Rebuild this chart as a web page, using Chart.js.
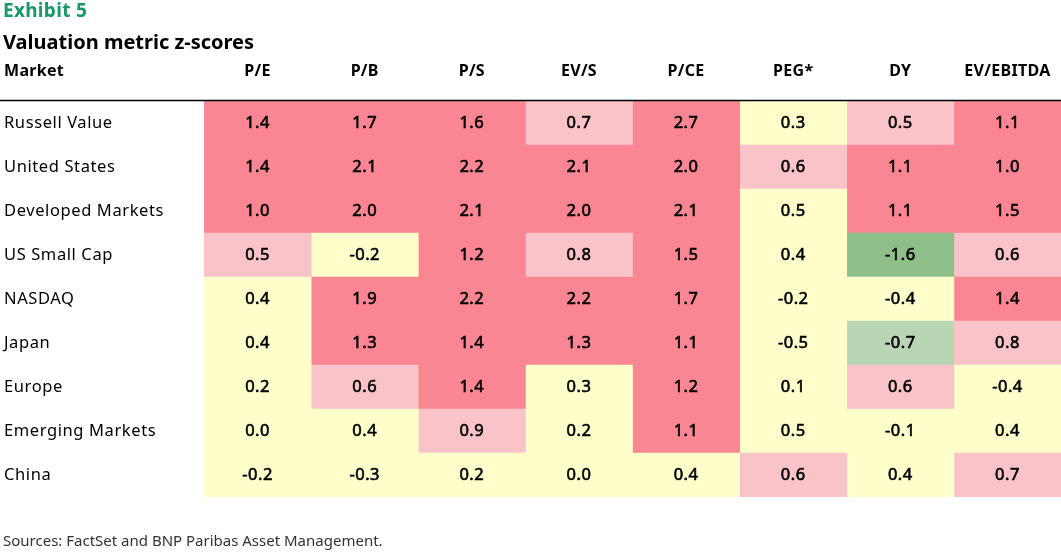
<!DOCTYPE html>
<html>
<head>
<meta charset="utf-8">
<script src="https://cdn.jsdelivr.net/npm/chart.js@4/dist/chart.umd.min.js"></script>
<style>
html,body{margin:0;padding:0;background:#fff;}
#wrap{width:1061px;height:552px;position:relative;}
</style>
</head>
<body>
<div id="wrap"><canvas id="c" width="1061" height="552"></canvas></div>
<script>
const exhibit = "Exhibit 5";
const title = "Valuation metric z-scores";
const rowHeader = "Market";
const source = "Sources: FactSet and BNP Paribas Asset Management.";
const metrics = ["P/E", "P/B", "P/S", "EV/S", "P/CE", "PEG*", "DY", "EV/EBITDA"];
const markets = ["Russell Value", "United States", "Developed Markets", "US Small Cap", "NASDAQ", "Japan", "Europe", "Emerging Markets", "China"];
const russellValue     = [1.4, 1.7, 1.6, 0.7, 2.7, 0.3, 0.5, 1.1];
const unitedStates     = [1.4, 2.1, 2.2, 2.1, 2.0, 0.6, 1.1, 1.0];
const developedMarkets = [1.0, 2.0, 2.1, 2.0, 2.1, 0.5, 1.1, 1.5];
const usSmallCap       = [0.5, -0.2, 1.2, 0.8, 1.5, 0.4, -1.6, 0.6];
const nasdaq           = [0.4, 1.9, 2.2, 2.2, 1.7, -0.2, -0.4, 1.4];
const japan            = [0.4, 1.3, 1.4, 1.3, 1.1, -0.5, -0.7, 0.8];
const europe           = [0.2, 0.6, 1.4, 0.3, 1.2, 0.1, 0.6, -0.4];
const emergingMarkets  = [0.0, 0.4, 0.9, 0.2, 1.1, 0.5, -0.1, 0.4];
const china            = [-0.2, -0.3, 0.2, 0.0, 0.4, 0.6, 0.4, 0.7];
// colour band: 2 strongly expensive, 1 expensive, 0 neutral, -1 cheap, -2 strongly cheap
const russellValueBand     = [2, 2, 2, 1, 2, 0, 1, 2];
const unitedStatesBand     = [2, 2, 2, 2, 2, 1, 2, 2];
const developedMarketsBand = [2, 2, 2, 2, 2, 0, 2, 2];
const usSmallCapBand       = [1, 0, 2, 1, 2, 0, -2, 1];
const nasdaqBand           = [0, 2, 2, 2, 2, 0, 0, 2];
const japanBand            = [0, 2, 2, 2, 2, 0, -1, 1];
const europeBand           = [0, 1, 2, 0, 2, 0, 1, 0];
const emergingMarketsBand  = [0, 0, 1, 0, 2, 0, 0, 0];
const chinaBand            = [0, 0, 0, 0, 0, 1, 0, 1];

const values = [russellValue, unitedStates, developedMarkets, usSmallCap, nasdaq, japan, europe, emergingMarkets, china];
const bands = [russellValueBand, unitedStatesBand, developedMarketsBand, usSmallCapBand, nasdaqBand, japanBand, europeBand, emergingMarketsBand, chinaBand];

const bandColors = {"2": "#F98692", "1": "#FAC3C8", "0": "#FFFFCC", "-1": "#B8D5B4", "-2": "#8FBF88"};
const FONT = "'Noto Sans', 'DejaVu Sans', sans-serif";

const datasets = metrics.map((m, c) => ({
  label: m,
  data: markets.map(() => [c, c + 1]),
  backgroundColor: markets.map((_, r) => bandColors[String(bands[r][c])]),
  borderWidth: 0,
  barPercentage: 1,
  categoryPercentage: 1,
  grouped: false
}));

function setLS(ctx, v) { if ('letterSpacing' in ctx) ctx.letterSpacing = v; }

const textPlugin = {
  id: 'tableText',
  afterDatasetsDraw(chart) {
    const ctx = chart.ctx;
    const xs = chart.scales.x, ys = chart.scales.y;
    ctx.save();
    ctx.textBaseline = 'middle';
    // titles
    ctx.textAlign = 'left';
    ctx.fillStyle = '#17996A';
    ctx.font = "bold 19px " + FONT;
    setLS(ctx, '0.3px');
    ctx.fillText(exhibit, 3, 12);
    ctx.fillStyle = '#000';
    ctx.font = "bold 20px " + FONT;
    setLS(ctx, '0px');
    ctx.fillText(title, 3, 43);
    ctx.font = "bold 16px " + FONT;
    setLS(ctx, '0.3px');
    ctx.fillText(rowHeader, 4, 71);
    ctx.textAlign = 'center';
    metrics.forEach((m, c) => {
      ctx.fillText(m, xs.getPixelForValue(c + 0.5), 71);
    });
    // header rule
    ctx.strokeStyle = '#000';
    ctx.lineWidth = 1.5;
    ctx.beginPath();
    ctx.moveTo(0, chart.chartArea.top - 0.5);
    ctx.lineTo(1061, chart.chartArea.top - 0.5);
    ctx.stroke();
    // row labels and values
    markets.forEach((mk, r) => {
      const y = ys.getPixelForValue(r);
      ctx.textAlign = 'left';
      ctx.font = "16.5px " + FONT;
      setLS(ctx, '0.6px');
      ctx.fillStyle = '#000';
      ctx.fillText(mk, 4, y);
      ctx.textAlign = 'center';
      ctx.font = "16.5px " + FONT;
      setLS(ctx, '0.5px');
      ctx.lineWidth = 0.6;
      ctx.strokeStyle = '#000';
      values[r].forEach((v, c) => {
        const x = xs.getPixelForValue(c + 0.5);
        ctx.fillText(v.toFixed(1), x, y);
        ctx.strokeText(v.toFixed(1), x, y);
      });
    });
    // source
    ctx.textAlign = 'left';
    ctx.font = "15px " + FONT;
    setLS(ctx, '0px');
    ctx.fillStyle = '#333';
    ctx.fillText(source, 3, 542);
    ctx.restore();
  }
};

new Chart(document.getElementById('c'), {
  type: 'bar',
  data: { labels: markets, datasets },
  options: {
    indexAxis: 'y',
    responsive: false,
    animation: false,
    devicePixelRatio: 1,
    layout: { padding: { left: 204, right: 0, top: 101, bottom: 55 } },
    scales: {
      x: { type: 'linear', min: 0, max: metrics.length, display: false },
      y: { type: 'category', display: false }
    },
    plugins: { legend: { display: false }, tooltip: { enabled: false } }
  },
  plugins: [textPlugin]
});
</script>
</body>
</html>
